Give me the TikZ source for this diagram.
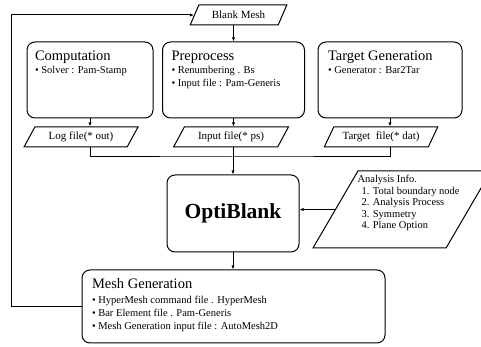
\documentclass[tikz,border=0pt]{standalone}
\usepackage{fontspec}
\setmainfont{Liberation Serif}
\usepackage{tikz}
\usetikzlibrary{shapes.geometric,arrows.meta}
\newcommand{\ttl}{\fontsize{14.5}{16}\selectfont}
\newcommand{\itm}{\textbullet\ }

\tikzset{
  box/.style={draw, rounded corners=8pt, inner sep=0pt},
  io/.style={draw, trapezium, trapezium left angle=53, trapezium right angle=127,
    trapezium stretches=true, inner sep=0pt, minimum height=20pt,
    font=\fontsize{11}{13}\selectfont},
  info/.style={draw, trapezium, trapezium left angle=63, trapezium right angle=117,
    trapezium stretches=true, inner sep=2pt},
  txt/.style={inner sep=0pt, align=left, font=\fontsize{10.5}{13}\selectfont}
}

\begin{document}
\begin{tikzpicture}[x=1pt, y=1pt, line width=1pt, >={Latex[length=4pt,width=3.2pt]}]
        \useasboundingbox (0,0) rectangle (481,347);
        \node [io, minimum width=97pt] (BM) at (238.5, 332) {Blank Mesh};
        \node [box, minimum width=126pt, minimum height=76pt] (CP) at (90, 267) {};
        \node [box, minimum width=142pt, minimum height=76pt] (PP) at (233.5, 267) {};
        \node [box, minimum width=144pt, minimum height=76pt] (TG) at (390, 267) {};
        \node [txt, anchor=north west] (CPt) at ([shift={(8,-9)}]CP.north west) {{\ttl Computation}\\ \itm Solver : Pam-Stamp};
        \node [txt, anchor=north west] (PPt) at ([shift={(9,-9)}]PP.north west) {{\ttl Preprocess}\\ \itm Renumbering . Bs\\ \itm Input file : Pam-Generis};
        \node [txt, anchor=north west] (TGt) at ([shift={(10,-9)}]TG.north west) {{\ttl Target Generation}\\ \itm Generator : Bar2Tar};
        \node [io, minimum width=115pt] (LF) at (81, 210) {Log file(* out)};
        \node [io, minimum width=115pt] (IF) at (231, 210) {Input file(* ps)};
        \node [io, minimum width=114pt] (TF) at (381, 210) {Target~ file(* dat)};
        \coordinate (J) at (233, 190);
        \node [box, minimum width=132pt, minimum height=77pt, font=\bfseries\fontsize{21.5}{24}\selectfont] (OB) at (233, 133.5) {OptiBlank};
        \node [info, minimum width=178pt, minimum height=77pt] (AI) at (402, 137.5) {};
        \node [txt, anchor=north west, font=\fontsize{10.5}{11.5}\selectfont] (AIt) at (357, 172) {Analysis Info.\\ \hspace*{4pt}1. Total boundary node\\ \hspace*{4pt}2. Analysis Process\\ \hspace*{4pt}3. Symmetry\\ \hspace*{4pt}4. Plane Option};
        \node [box, minimum width=303pt, minimum height=73pt] (MG) at (233.5, 40.5) {};
        \node [txt, anchor=north west] (MGt) at ([shift={(10,-8)}]MG.north west) {{\ttl Mesh Generation}\\[2pt] \itm HyperMesh command file . HyperMesh\\ \itm Bar Element file . Pam-Generis\\ \itm Mesh Generation input file : AutoMesh2D};
        \draw [->] (PP.north |- BM.south) -- (PP.north);
        \draw [->] (CP.south) -- (CP.south |- LF.north);
        \draw [->] (PP.south) -- (PP.south |- IF.north);
        \draw [->] (TG.south) -- (TG.south |- TF.north);
        \draw (CP.south |- LF.south) |- (J) -| (TG.south |- TF.south);
        \draw [->] (J |- IF.south) -- (J |- OB.north);
        \draw [->] (AI.west) -- (AI.west -| OB.east);
        \draw [->] (OB.south) -- (OB.south |- MG.north);
        \draw [->] (MG.west) -- ++(-70, 0) |- (BM.west);
\end{tikzpicture}
\end{document}
